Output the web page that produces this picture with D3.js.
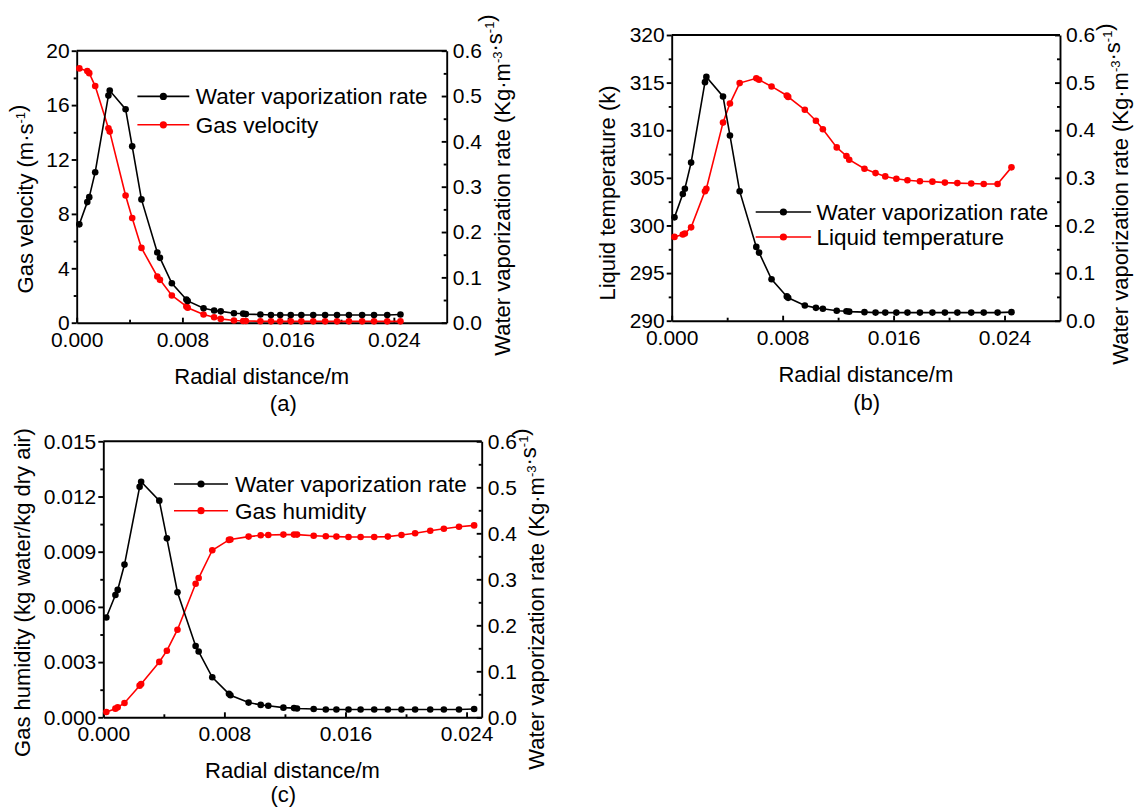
<!DOCTYPE html>
<html>
<head>
<meta charset="utf-8">
<script src="https://cdn.jsdelivr.net/npm/d3@7"></script>
<style>
body { margin: 0; background: #fff; }
svg text { font-family: "Liberation Sans", Arial, sans-serif; fill: #000; }
</style>
</head>
<body>
<svg id="chart" width="1135" height="807"></svg>
<script>
// radial positions of the computed points (m)
const radialDistance = [0.0002, 0.0008, 0.00095, 0.0014, 0.0024, 0.0025, 0.0037, 0.0042, 0.0049, 0.0061, 0.0063,
    0.0072, 0.0083, 0.0084, 0.0096, 0.0104, 0.0109, 0.0119, 0.0126, 0.0128, 0.0139, 0.0147, 0.0154, 0.0162,
    0.0170, 0.0179, 0.0188, 0.0197, 0.0206, 0.0216, 0.0225, 0.0235, 0.0245];

// Kg·m-3·s-1
const vaporizationRate = [0.217, 0.266, 0.277, 0.332, 0.501, 0.512, 0.471, 0.389, 0.272, 0.155, 0.143,
    0.087, 0.051, 0.048, 0.032, 0.027, 0.025, 0.021, 0.020, 0.019, 0.018, 0.017, 0.017, 0.017,
    0.017, 0.017, 0.017, 0.017, 0.017, 0.017, 0.017, 0.017, 0.018];

// m·s-1
const gasVelocity = [18.7, 18.5, 18.35, 17.4, 14.3, 14.05, 9.35, 7.7, 5.5, 3.4, 3.15,
    2.0, 1.2, 1.1, 0.6, 0.4, 0.28, 0.16, 0.13, 0.12, 0.11, 0.1, 0.1, 0.1,
    0.1, 0.1, 0.1, 0.1, 0.1, 0.1, 0.1, 0.1, 0.1];

// k
const liquidTemperature = [298.8, 299.05, 299.15, 299.8, 303.6, 303.85, 310.8, 312.8, 314.95, 315.45, 315.3,
    314.6, 313.65, 313.5, 312.15, 311.0, 310.1, 308.2, 307.3, 306.9, 305.95, 305.5, 305.15, 304.9,
    304.75, 304.65, 304.6, 304.5, 304.45, 304.4, 304.35, 304.35, 306.1];

// kg water / kg dry air
const gasHumidity = [0.00029, 0.00047, 0.00054, 0.00078, 0.00172, 0.00181, 0.00301, 0.00362, 0.00476, 0.00726, 0.00757,
    0.00908, 0.00964, 0.00966, 0.00982, 0.00989, 0.00991, 0.00993, 0.00993, 0.00993, 0.00987, 0.00984, 0.00982, 0.0098,
    0.0098, 0.0098, 0.00982, 0.00991, 0.0100, 0.01014, 0.01025, 0.01036, 0.01043];

const xTicks = [0, 0.008, 0.016, 0.024];
const xMinorTicks = [0.004, 0.012, 0.020];
const velocityTicks = [0, 4, 8, 12, 16, 20];
const velocityMinorTicks = [2, 6, 10, 14, 18];
const temperatureTicks = [290, 295, 300, 305, 310, 315, 320];
const temperatureMinorTicks = [292.5, 297.5, 302.5, 307.5, 312.5, 317.5];
const humidityTicks = [0, 0.003, 0.006, 0.009, 0.012, 0.015];
const humidityMinorTicks = [0.0015, 0.0045, 0.0075, 0.0105, 0.0135];
const rateTicks = [0, 0.1, 0.2, 0.3, 0.4, 0.5, 0.6];
const rateMinorTicks = [0.05, 0.15, 0.25, 0.35, 0.45, 0.55];

const RED = "#ff0000";
const BLACK = "#000000";
const FONT = '"Liberation Sans", Arial, sans-serif';
const TICK_FONT = 21;
const TITLE_FONT = 22;
const LEGEND_FONT = 22.5;

const svg = d3.select("#chart");

// text with "^" parts as superscripts
function richText(sel, parts) {
    parts.forEach(p => {
        if (p.startsWith("^")) {
            sel.append("tspan").attr("dy", -8).attr("font-size", 13).text(p.slice(1));
            sel.append("tspan").attr("dy", 8).text("");
        } else {
            sel.append("tspan").text(p);
        }
    });
}

function styleAxis(g) {
    g.attr("font-family", FONT).attr("font-size", TICK_FONT);
    g.selectAll("path, line").attr("stroke", "#000").attr("stroke-width", 1.9);
    g.selectAll("text").attr("fill", "#000");
}

function drawPanel(p) {
    const g = svg.append("g");
    const x = d3.scaleLinear().domain([0, p.xMax]).range([p.left, p.right]);
    const yL = d3.scaleLinear().domain(p.leftDomain).range([p.bottom, p.top]);
    const yR = d3.scaleLinear().domain([0, 0.6]).range([p.bottom, p.top]);

    // top border
    g.append("line").attr("x1", p.left).attr("x2", p.right).attr("y1", p.top).attr("y2", p.top)
        .attr("stroke", "#000").attr("stroke-width", 1.9);

    // bottom axis, ticks inward
    const bx = g.append("g").attr("transform", `translate(0,${p.bottom})`)
        .call(d3.axisBottom(x).tickValues(xTicks).tickFormat(d3.format(".3f"))
            .tickSize(-5).tickSizeOuter(0).tickPadding(9));
    styleAxis(bx);
    const bxm = g.append("g").attr("transform", `translate(0,${p.bottom})`)
        .call(d3.axisBottom(x).tickValues(xMinorTicks).tickFormat("").tickSize(-3).tickSizeOuter(0));
    bxm.select(".domain").remove();
    styleAxis(bxm);

    // left axis, ticks outward
    const ly = g.append("g").attr("transform", `translate(${p.left},0)`)
        .call(d3.axisLeft(yL).tickValues(p.leftTicks).tickFormat(p.leftFormat)
            .tickSize(5).tickSizeOuter(0).tickPadding(2));
    styleAxis(ly);
    const lym = g.append("g").attr("transform", `translate(${p.left},0)`)
        .call(d3.axisLeft(yL).tickValues(p.leftMinor).tickFormat("").tickSize(3).tickSizeOuter(0));
    lym.select(".domain").remove();
    styleAxis(lym);

    // right axis, ticks inward
    const ry = g.append("g").attr("transform", `translate(${p.right},0)`)
        .call(d3.axisRight(yR).tickValues(rateTicks).tickFormat(d3.format(".1f"))
            .tickSize(-5).tickSizeOuter(0).tickPadding(6));
    styleAxis(ry);
    const rym = g.append("g").attr("transform", `translate(${p.right},0)`)
        .call(d3.axisRight(yR).tickValues(rateMinorTicks).tickFormat("").tickSize(-3).tickSizeOuter(0));
    rym.select(".domain").remove();
    styleAxis(rym);

    // series
    const series = [
        { values: p.leftSeries, y: yL, color: RED },
        { values: vaporizationRate, y: yR, color: BLACK }
    ];
    series.forEach(s => {
        const pts = radialDistance.map((d, i) => [x(d), s.y(s.values[i])]);
        g.append("path").attr("d", d3.line()(pts))
            .attr("fill", "none").attr("stroke", s.color).attr("stroke-width", 1.6);
        g.selectAll(null).data(pts).enter().append("circle")
            .attr("cx", d => d[0]).attr("cy", d => d[1]).attr("r", 3.3).attr("fill", s.color);
    });

    // legend
    const legendRows = [
        { label: "Water vaporization rate", color: BLACK, y: p.legend.y1 },
        { label: p.leftName, color: RED, y: p.legend.y2 }
    ];
    legendRows.forEach(r => {
        g.append("line").attr("x1", p.legend.x1).attr("x2", p.legend.x2).attr("y1", r.y).attr("y2", r.y)
            .attr("stroke", r.color).attr("stroke-width", 1.6);
        g.append("circle").attr("cx", (p.legend.x1 + p.legend.x2) / 2).attr("cy", r.y).attr("r", 3.6).attr("fill", r.color);
        g.append("text").attr("x", p.legend.tx).attr("y", r.y).attr("dy", "0.35em")
            .attr("font-size", LEGEND_FONT).text(r.label);
    });

    // axis titles
    g.append("text").attr("x", (p.left + p.right) / 2).attr("y", p.bottom + 61)
        .attr("text-anchor", "middle").attr("font-size", TITLE_FONT).text("Radial distance/m");
    g.append("text").attr("x", p.letterX).attr("y", p.bottom + p.letterDy)
        .attr("text-anchor", "middle").attr("font-size", TITLE_FONT).text(p.letter);

    const lt = g.append("text").attr("transform", `translate(${p.leftTitle[0]},${p.leftTitle[1]}) rotate(-90)`)
        .attr("text-anchor", "middle").attr("dy", "0.35em").attr("font-size", TITLE_FONT);
    richText(lt, p.leftTitleParts);

    const rt = g.append("text").attr("transform", `translate(${p.rightTitle[0]},${p.rightTitle[1]}) rotate(-90)`)
        .attr("text-anchor", "middle").attr("dy", "0.35em").attr("font-size", TITLE_FONT);
    richText(rt, ["Water vaporization rate (Kg·m", "^-3", "·s", "^-1", ")"]);
}

drawPanel({
    left: 76.7, right: 446.7, top: 50.7, bottom: 322.7, xMax: 0.028,
    leftDomain: [0, 20], leftTicks: velocityTicks, leftMinor: velocityMinorTicks, leftFormat: d3.format("d"),
    leftSeries: gasVelocity, leftName: "Gas velocity",
    legend: { x1: 137.4, x2: 189.3, tx: 195.8, y1: 96.4, y2: 124.8 },
    leftTitle: [25, 199], leftTitleParts: ["Gas velocity (m·s", "^-1", ")"],
    rightTitle: [502, 185],
    letter: "(a)", letterX: 283.3, letterDy: 88
});

drawPanel({
    left: 671.7, right: 1060, top: 35, bottom: 320.7, xMax: 0.028,
    leftDomain: [290, 320], leftTicks: temperatureTicks, leftMinor: temperatureMinorTicks, leftFormat: d3.format("d"),
    leftSeries: liquidTemperature, leftName: "Liquid temperature",
    legend: { x1: 755.7, x2: 811.1, tx: 816.5, y1: 212, y2: 237 },
    leftTitle: [607, 193], leftTitleParts: ["Liquid temperature (k)"],
    rightTitle: [1120, 194],
    letter: "(b)", letterX: 866.7, letterDy: 89.5
});

drawPanel({
    left: 103.3, right: 481.7, top: 441.3, bottom: 717.3, xMax: 0.025,
    leftDomain: [0, 0.015], leftTicks: humidityTicks, leftMinor: humidityMinorTicks, leftFormat: d3.format(".3f"),
    leftSeries: gasHumidity, leftName: "Gas humidity",
    legend: { x1: 174, x2: 228, tx: 235, y1: 484, y2: 510.7 },
    leftTitle: [22.5, 592.5], leftTitleParts: ["Gas humidity (kg water/kg dry air)"],
    rightTitle: [536, 599],
    letter: "(c)", letterX: 283.3, letterDy: 84.4
});
</script>
</body>
</html>
